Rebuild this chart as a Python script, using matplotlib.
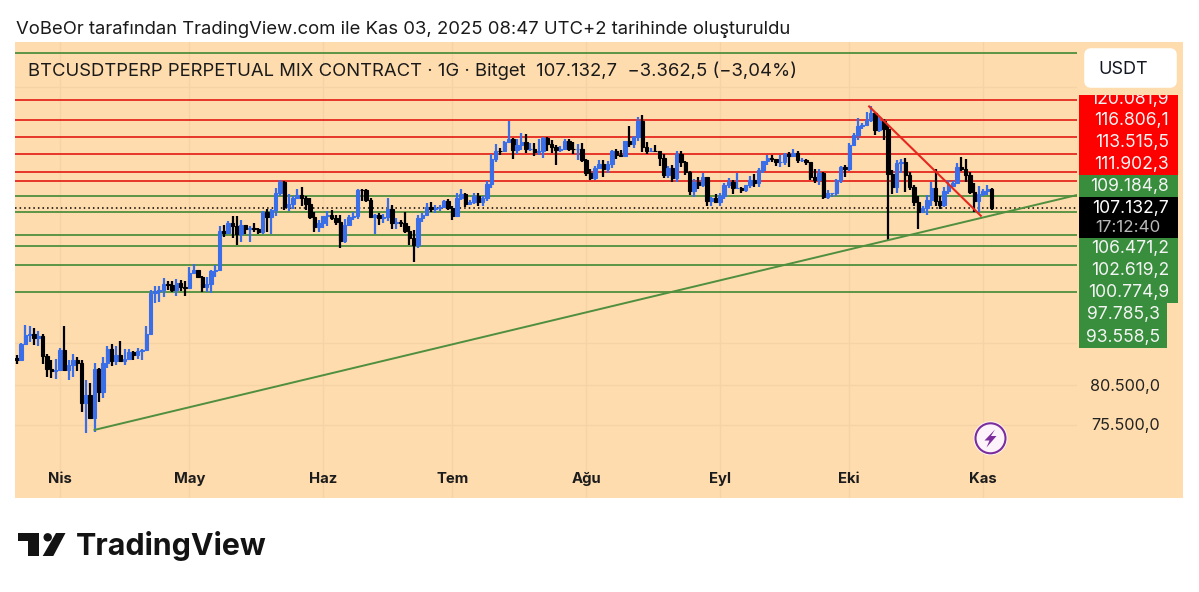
import math
import matplotlib
matplotlib.use("Agg")
import matplotlib.pyplot as plt
from matplotlib.patches import Rectangle, Polygon, Circle, FancyBboxPatch

W, H = 1199, 592
FONT = ["Inter", "DejaVu Sans"]
plt.rcParams["font.family"] = FONT

# Daily candles in thousand USDT; first candle is 22 March 2025 (day index 0)
first_open = 84.1
closes = [
 83.8,86.0,87.3,87.5,86.9,87.2,84.4,82.6,82.4,82.5,
 85.2,82.5,83.1,83.8,83.5,78.2,79.2,76.3,82.6,79.6,83.4,85.3,83.7,84.5,83.7,84.0,84.9,84.5,85.1,85.2,87.5,93.4,93.7,93.9,94.7,94.6,93.8,95.0,94.3,94.2,
 96.5,96.9,95.9,94.3,94.7,96.8,97.0,103.2,102.9,104.6,104.1,102.8,104.2,103.5,103.7,103.5,103.1,106.4,105.6,106.8,109.7,111.7,107.3,107.8,108.9,109.4,108.9,107.8,105.6,103.9,104.6,
 105.7,105.9,105.4,104.7,101.6,104.3,105.6,105.7,110.3,110.2,108.6,105.6,106.0,105.4,105.6,107.0,104.5,104.8,104.6,103.3,102.1,100.9,105.4,106.0,107.3,106.9,107.1,107.3,108.4,107.1,
 105.7,108.8,109.6,107.9,108.2,109.2,108.2,108.9,111.3,116.0,117.5,117.4,119.1,119.8,117.7,118.6,119.2,117.9,117.9,117.3,117.4,120.0,118.7,118.3,117.6,117.9,119.4,117.9,117.8,117.8,115.7,
 113.3,112.5,114.2,115.0,114.1,115.0,117.5,116.7,116.5,119.3,118.7,120.2,123.3,118.3,117.4,117.5,117.4,116.2,112.9,114.3,112.5,116.9,115.4,113.5,110.1,111.8,111.2,112.6,108.4,108.8,108.2,
 109.2,111.2,111.7,110.7,110.7,110.2,111.1,112.1,111.5,113.9,115.5,116.1,115.9,115.3,115.4,116.8,116.5,117.1,115.7,115.7,115.3,112.7,112.0,113.3,109.0,109.7,109.7,112.1,114.4,114.0,
 118.6,120.6,122.3,122.4,123.5,124.8,121.5,123.3,121.7,113.1,110.8,115.2,115.3,113.0,110.8,108.2,106.5,107.2,108.6,110.6,108.4,107.6,110.1,111.0,111.6,114.5,114.1,112.9,110.0,108.3,109.6,
 110.1,110.5,107.13]
highs = [
 84.5,86.2,88.7,88.5,88.3,87.8,87.5,84.6,83.9,84.0,
 85.5,88.5,83.9,84.7,84.2,83.8,81.2,80.8,83.5,82.7,84.2,85.8,86.1,85.8,86.4,85.4,85.4,85.1,85.5,85.3,88.5,93.8,94.5,94.5,95.7,95.3,95.3,95.6,95.4,95.2,
 97.4,97.9,97.0,96.0,95.9,97.0,97.8,104.0,104.3,104.9,105.7,105.8,105.0,104.3,104.0,104.5,103.7,106.7,107.0,107.0,110.7,112.0,111.9,109.5,109.3,110.4,110.8,109.3,108.9,106.4,105.0,
 105.8,106.7,106.8,106.0,105.9,105.3,105.9,106.4,110.5,110.4,110.4,108.9,106.1,106.2,106.1,108.9,107.7,105.5,105.0,106.5,104.0,103.4,106.0,106.3,108.0,108.2,107.7,107.6,108.5,108.7,
 107.4,109.7,110.5,109.7,108.5,109.7,109.7,109.2,111.9,116.8,118.8,118.0,119.4,123.2,120.0,119.7,120.9,120.8,118.9,118.9,119.7,120.2,120.1,119.5,118.5,118.4,119.7,119.8,119.2,118.8,118.9,
 116.0,114.0,114.7,115.7,115.7,115.6,117.6,117.9,117.6,119.4,122.3,120.3,124.0,124.5,119.2,118.0,118.5,117.5,116.8,114.7,114.8,117.4,117.4,115.6,113.7,112.3,112.6,113.4,112.7,109.0,109.5,
 109.8,111.6,112.4,112.0,113.4,110.9,111.2,112.8,113.2,114.2,115.5,116.7,116.7,116.0,116.7,117.0,117.3,117.9,117.4,116.1,115.9,115.4,114.0,114.0,113.5,110.2,109.8,112.3,114.7,114.8,
 118.9,121.0,123.9,122.9,125.1,126.2,125.0,124.0,123.7,122.5,113.9,115.7,116.0,116.1,113.6,111.2,109.2,107.5,109.4,111.7,114.0,109.2,110.9,112.0,111.9,115.2,116.4,116.0,113.6,111.6,111.0,
 110.5,111.2,110.7]
lows = [
 83.3,83.7,85.9,86.3,85.9,85.8,83.3,81.6,81.5,81.3,
 82.4,82.3,81.2,81.6,82.4,77.1,74.5,76.2,74.6,78.4,78.9,82.7,83.0,83.2,83.6,83.1,84.1,83.9,84.0,83.9,85.0,87.4,91.9,92.0,92.8,93.9,93.6,92.9,93.7,92.9,
 94.1,96.4,95.7,93.6,93.6,93.4,95.9,96.9,102.3,102.8,102.0,101.0,101.4,102.8,101.4,103.1,102.7,102.7,103.1,102.7,105.8,109.3,106.8,106.6,106.9,108.9,107.5,106.8,105.3,103.0,103.1,
 103.7,104.0,105.0,104.2,100.4,101.2,104.0,105.1,105.3,108.4,108.2,105.4,102.7,104.3,104.5,104.9,103.5,103.6,103.9,102.9,100.9,98.2,100.5,104.7,105.7,106.5,106.3,106.7,107.2,106.8,
 105.1,105.6,108.6,107.3,107.8,107.9,107.5,107.5,108.4,110.6,115.3,116.7,117.3,118.9,116.0,116.9,117.7,117.0,117.4,116.5,116.6,116.2,117.5,117.1,114.8,117.2,117.8,117.5,116.9,115.8,115.4,
 112.8,112.0,112.0,114.1,112.7,113.4,114.3,115.9,116.4,116.6,118.2,118.0,119.4,117.3,116.9,117.2,117.2,114.7,112.5,112.4,111.7,111.7,114.4,112.9,109.4,109.0,110.4,110.9,107.5,107.5,108.0,
 107.4,108.7,110.6,109.5,110.4,109.8,110.0,110.7,110.8,110.9,113.4,114.8,115.3,114.7,114.5,114.8,114.5,116.8,115.2,115.4,114.9,112.0,111.6,111.1,108.7,108.7,109.0,109.2,111.6,112.7,
 113.8,118.4,119.5,121.7,122.2,123.0,120.6,121.1,119.5,101.8,109.6,109.7,113.3,110.0,110.2,107.5,103.5,106.4,106.0,107.5,107.4,106.9,107.3,109.5,110.8,111.5,113.7,111.8,109.5,106.4,106.4,
 109.2,109.4,106.8]
assert len(closes) == len(highs) == len(lows) == 227, (len(closes), len(highs), len(lows))
opens = [first_open] + closes[:-1]

red_levels = [127.5, 123.5, 120.0819, 116.8061, 113.5155, 111.9023]
green_levels = [137.5, 109.1848, 106.4712, 102.6192, 100.7749, 97.7853, 93.5585]
last_price = 107.1327
month_days = [10, 40, 71, 101, 132, 163, 193, 224]
month_labels = ["Nis", "May", "Haz", "Tem", "Ağu", "Eyl", "Eki", "Kas"]
grid_prices = [75.5, 80.5, 86.2, 130.2]
rising_days, rising_prices = [18.0, 245.8], [74.9, 109.4]
falling_days, falling_prices = [197.6, 223.5], [126.2, 105.8]

price_tags = ["120.081,9", "116.806,1", "113.515,5", "111.902,3", "109.184,8",
              "106.471,2", "102.619,2", "100.774,9", "97.785,3", "93.558,5"]
axis_ticks = [("80.500,0", 80.5), ("75.500,0", 75.5)]

BG = "#fedcae"
BLUE = "#3a6ee8"
GREEN = "#4f8f3e"
RED = "#e5281e"

fig = plt.figure(figsize=(W / 100, H / 100), dpi=100, facecolor="white")

def rect_px(x0, y0, x1, y1):
    return [x0 / W, 1 - y1 / H, (x1 - x0) / W, (y1 - y0) / H]

back = fig.add_axes([0, 0, 1, 1], zorder=0)
back.set_xlim(0, W); back.set_ylim(H, 0); back.axis("off")
back.add_patch(Rectangle((15, 42), 1168, 456, fc=BG, ec="none"))

PX_DAY = 4.313
x_of_day0 = 60 - 10 * PX_DAY
ax = fig.add_axes(rect_px(15, 42, 1077, 498), zorder=1)
ax.patch.set_alpha(0)
ax.set_yscale("log")
ax.set_xlim((15 - x_of_day0) / PX_DAY, (1077 - x_of_day0) / PX_DAY)
PX_LN = 620.0
ax.set_ylim(last_price * math.exp((208 - 498) / PX_LN), last_price * math.exp((208 - 42) / PX_LN))
for s in ax.spines.values():
    s.set_visible(False)
ax.minorticks_off()
ax.set_yticks([])
ax.set_xticks(month_days)
ax.set_xticklabels(month_labels, fontsize=10.7, fontweight="bold", color="#1c1c1c")
ax.tick_params(axis="x", length=0, pad=-19)
for d in month_days:
    ax.axvline(d, color="#f6d3a6", lw=1, zorder=1)
for p in grid_prices:
    ax.axhline(p, color="#f6d3a6", lw=1, zorder=1)

for p in red_levels:
    ax.axhline(p, color=RED, lw=1.3, zorder=2)
for p in green_levels:
    ax.axhline(p, color=GREEN, lw=1.3, zorder=2)
ax.axhline(last_price, color="black", lw=1.1, ls=(0, (1, 2)), zorder=2)

for i, (o, h, l, c) in enumerate(zip(opens, highs, lows, closes)):
    col = BLUE if c >= o else "black"
    ax.plot([i, i], [l, h], color=col, lw=1.6, solid_capstyle="butt", zorder=3)
    ax.bar(i, abs(c - o), bottom=min(o, c), width=0.8, color=col, lw=0.8, ec=col, zorder=3)

ax.plot(rising_days, rising_prices, color=GREEN, lw=1.4, zorder=4)
ax.plot(falling_days, falling_prices, color=RED, lw=1.5, zorder=4)

top = fig.add_axes([0, 0, 1, 1], zorder=2)
top.set_xlim(0, W); top.set_ylim(H, 0); top.axis("off"); top.patch.set_alpha(0)

top.text(16, 30, "VoBeOr tarafından TradingView.com ile Kas 03, 2025 08:47 UTC+2 tarihinde oluşturuldu",
         fontsize=13.31, color="#1a1a1a", va="center", ha="left")
top.text(28, 71, "BTCUSDTPERP PERPETUAL MIX CONTRACT · 1G · Bitget  107.132,7  −3.362,5 (−3,04%)",
         fontsize=13.3, color="#1a1a1a", va="center", ha="left")

top.add_patch(FancyBboxPatch((1087, 51), 87, 34, boxstyle="round,pad=0,rounding_size=4", fc="white", ec="white", lw=4))
top.text(1123, 69, "USDT", fontsize=13, color="#131722", ha="center", va="center")

top.add_patch(Rectangle((1079, 95), 99, 80, fc="#ff0000", ec="none"))
top.add_patch(Rectangle((1079, 175), 99, 22, fc="#388e3c", ec="none"))
top.add_patch(Rectangle((1079, 197), 99, 41, fc="black", ec="none"))
top.add_patch(Rectangle((1079, 238), 99, 65, fc="#388e3c", ec="none"))
top.add_patch(Rectangle((1079, 303), 88, 45, fc="#388e3c", ec="none"))

tag_ys = [99.5, 120.5, 142.5, 164.5, 186.5, 248.5, 270.5, 292.5, 314.5, 337.5]
clip_box = Rectangle((1079, 95), 99, 253, transform=top.transData)
for txt, y in zip(price_tags, tag_ys):
    t = top.text(1169 if len(txt) == 9 else 1160, y, txt, fontsize=12.6, color="#f4f4f4", ha="right", va="center")
    t.set_clip_path(clip_box); t.set_clip_on(True)
top.text(1169, 209, "107.132,7", fontsize=12.6, color="white", ha="right", va="center")
top.text(1160, 227, "17:12:40", fontsize=12.2, color="#b9b9b9", ha="right", va="center")

for txt, p in axis_ticks:
    ax.annotate(txt, xy=(1160, p), xycoords=("figure pixels", "data"), xytext=(0, -1),
                textcoords="offset pixels", fontsize=11.7,
                color="#222222", ha="right", va="center", annotation_clip=False)

top.add_patch(Circle((990.5, 438.3), 17, fc="#fff6f2", ec="none"))
top.add_patch(Circle((990.5, 438.3), 15, fc="#fdf3fb", ec="#7b2d9e", lw=1.5))
top.add_patch(Polygon([(995, 429.5), (984.5, 440.5), (989.5, 440.5), (986.5, 447.5), (996.5, 436), (991, 436)],
                      closed=True, fc="#7b2d9e", ec="none"))

top.add_patch(Polygon([(18.3, 533), (39.3, 533), (39.3, 556), (28, 556), (28, 541), (18.3, 541)],
                      closed=True, fc="#131313", ec="none"))
top.add_patch(Circle((47.7, 537.3), 4.2, fc="#131313", ec="none"))
top.add_patch(Polygon([(56, 533), (65.5, 533), (53.3, 556), (42.7, 556)], closed=True, fc="#131313", ec="none"))
top.text(76, 546, "TradingView", fontsize=21.9, fontweight="bold", color="#131313", ha="left", va="center")

fig.savefig("out.png", dpi=100, facecolor="white")
